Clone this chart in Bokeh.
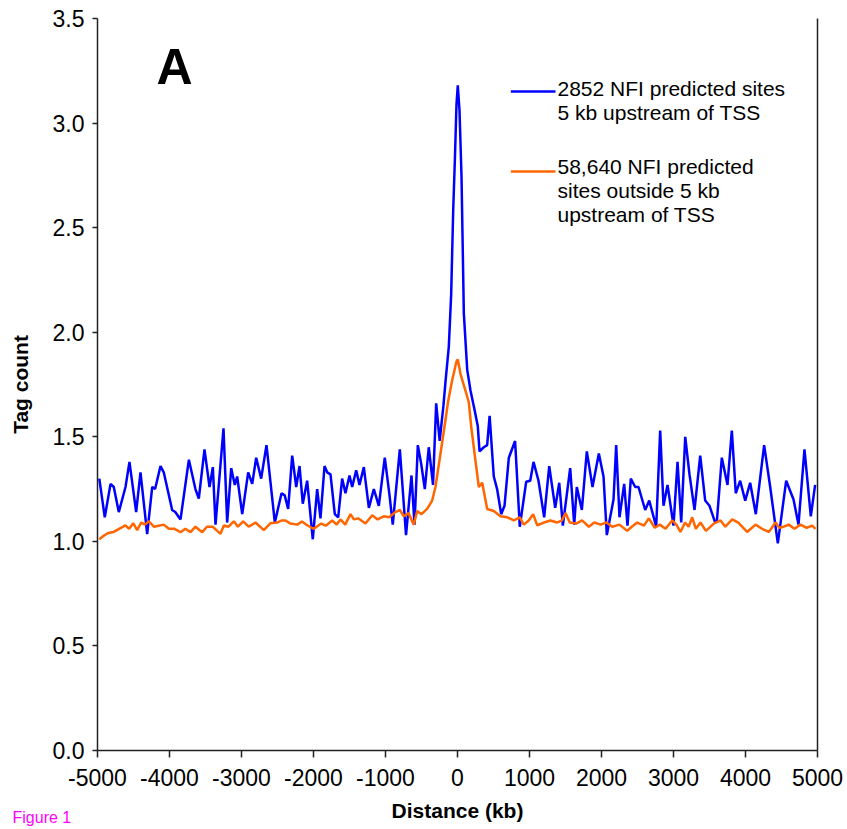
from bokeh.plotting import figure
from bokeh.models import Range1d, FixedTicker, PrintfTickFormatter, LinearAxis, Label, Arrow
from bokeh.embed import file_html
from bokeh.resources import INLINE

# ---- data ----
blue_x = [-4975, -4899, -4819, -4774, -4704, -4611, -4556, -4463, -4403, -4310,
          -4240, -4200, -4125, -4080, -3963, -3920, -3847, -3731, -3640, -3593,
          -3514, -3444, -3398, -3361, -3250, -3199, -3143, -3093, -3060, -2990,
          -2907, -2851, -2796, -2727, -2653, -2537, -2444, -2400, -2352, -2296,
          -2240, -2194, -2149, -2088, -2010, -1949, -1903, -1847, -1810, -1764,
          -1704, -1657, -1602, -1556, -1500, -1463, -1407, -1361, -1301, -1231,
          -1162, -1093, -1010, -944, -899, -801, -715, -639, -597, -551,
          -504, -454, -399, -340, -296, -248, -195, -165, -121, -88,
          -60, -37, -14, 4, 28, 56, 88, 135, 181, 236,
          282, 306, 365, 412, 446, 504, 550, 607, 653, 713,
          800, 865, 954, 1010, 1056, 1125, 1204, 1274, 1357, 1413,
          1463, 1565, 1621, 1657, 1727, 1796, 1875, 1963, 2028, 2074,
          2167, 2204, 2250, 2315, 2361, 2407, 2468, 2514, 2607, 2663,
          2760, 2815, 2861, 2917, 3000, 3056, 3107, 3163, 3222, 3292,
          3371, 3440, 3500, 3579, 3602, 3671, 3750, 3810, 3865, 3926,
          3996, 4065, 4143, 4259, 4343, 4449, 4565, 4667, 4736, 4819,
          4907, 4967]
blue_y = [1.30, 1.115, 1.275, 1.26, 1.14, 1.26, 1.38, 1.14, 1.33, 1.035,
          1.26, 1.25, 1.36, 1.33, 1.15, 1.14, 1.105, 1.39, 1.25, 1.205,
          1.44, 1.26, 1.355, 1.08, 1.54, 1.09, 1.35, 1.27, 1.31, 1.13,
          1.33, 1.275, 1.40, 1.30, 1.46, 1.09, 1.23, 1.22, 1.155, 1.41,
          1.26, 1.36, 1.18, 1.29, 1.01, 1.25, 1.11, 1.36, 1.33, 1.32,
          1.13, 1.115, 1.30, 1.23, 1.315, 1.26, 1.34, 1.27, 1.355, 1.16,
          1.25, 1.17, 1.40, 1.22, 1.08, 1.44, 1.03, 1.315, 1.08, 1.46,
          1.37, 1.25, 1.45, 1.27, 1.66, 1.48, 1.65, 1.77, 1.93, 2.18,
          2.58, 2.82, 3.09, 3.18, 3.06, 2.74, 2.09, 1.82, 1.72, 1.63,
          1.55, 1.43, 1.45, 1.46, 1.60, 1.31, 1.25, 1.13, 1.17, 1.40,
          1.48, 1.07, 1.285, 1.29, 1.38, 1.29, 1.115, 1.36, 1.16, 1.28,
          1.075, 1.35, 1.08, 1.26, 1.15, 1.43, 1.26, 1.42, 1.31, 1.03,
          1.20, 1.46, 1.115, 1.275, 1.075, 1.30, 1.26, 1.26, 1.15, 1.195,
          1.07, 1.53, 1.17, 1.27, 1.075, 1.38, 1.09, 1.50, 1.32, 1.15,
          1.41, 1.195, 1.17, 1.09, 1.095, 1.40, 1.27, 1.53, 1.23, 1.29,
          1.195, 1.28, 1.13, 1.46, 1.26, 0.99, 1.29, 1.20, 1.08, 1.44,
          1.12, 1.27]

orange_x = [-4975, -4900, -4850, -4775, -4700, -4611, -4560, -4504, -4449, -4393,
            -4340, -4287, -4218, -4150, -4079, -4010, -3930, -3847, -3780, -3708,
            -3639, -3546, -3480, -3400, -3292, -3245, -3180, -3107, -3050, -2977,
            -2900, -2806, -2690, -2597, -2504, -2440, -2389, -2320, -2226, -2160,
            -2088, -1996, -1893, -1830, -1740, -1680, -1625, -1560, -1486, -1440,
            -1380, -1278, -1185, -1110, -1024, -950, -861, -800, -746, -680,
            -608, -560, -500, -422, -352, -306, -236, -167, -130, -74,
            -14, 4, 42, 111, 157, 190, 226, 296, 343, 412,
            504, 597, 690, 782, 865, 920, 990, 1051, 1107, 1200,
            1292, 1380, 1450, 1500, 1560, 1650, 1730, 1824, 1900, 1990,
            2070, 2148, 2250, 2357, 2420, 2496, 2590, 2657, 2740, 2810,
            2889, 2982, 3040, 3097, 3160, 3210, 3260, 3310, 3375, 3450,
            3560, 3653, 3720, 3815, 3900, 4023, 4139, 4230, 4324, 4417,
            4470, 4530, 4601, 4680, 4764, 4850, 4926, 4972]
orange_y = [1.01, 1.03, 1.04, 1.045, 1.06, 1.076, 1.06, 1.087, 1.054, 1.09,
            1.08, 1.096, 1.07, 1.075, 1.08, 1.06, 1.06, 1.044, 1.06, 1.044,
            1.07, 1.044, 1.07, 1.07, 1.036, 1.076, 1.07, 1.096, 1.07, 1.096,
            1.07, 1.09, 1.054, 1.087, 1.09, 1.10, 1.10, 1.085, 1.08, 1.095,
            1.077, 1.06, 1.085, 1.075, 1.10, 1.08, 1.105, 1.08, 1.13, 1.105,
            1.11, 1.085, 1.125, 1.105, 1.12, 1.115, 1.14, 1.15, 1.12, 1.135,
            1.08, 1.145, 1.13, 1.155, 1.195, 1.26, 1.42, 1.58, 1.67, 1.77,
            1.86, 1.87, 1.80, 1.72, 1.665, 1.55, 1.45, 1.26, 1.28, 1.155,
            1.145, 1.12, 1.115, 1.10, 1.115, 1.08, 1.10, 1.13, 1.077, 1.09,
            1.10, 1.09, 1.10, 1.135, 1.09, 1.085, 1.10, 1.07, 1.09, 1.08,
            1.09, 1.07, 1.08, 1.05, 1.07, 1.09, 1.075, 1.11, 1.065, 1.08,
            1.06, 1.10, 1.08, 1.045, 1.09, 1.07, 1.115, 1.06, 1.09, 1.05,
            1.085, 1.10, 1.07, 1.105, 1.09, 1.045, 1.08, 1.06, 1.045, 1.09,
            1.065, 1.07, 1.08, 1.06, 1.08, 1.065, 1.075, 1.06]

x_ticks = [-5000, -4000, -3000, -2000, -1000, 0, 1000, 2000, 3000, 4000, 5000]
y_ticks = [0.0, 0.5, 1.0, 1.5, 2.0, 2.5, 3.0, 3.5]

blue_label = ["2852 NFI predicted sites", "5 kb upstream of TSS"]
orange_label = ["58,640 NFI predicted", "sites outside 5 kb", "upstream of TSS"]

FONT = "Liberation Sans"
AX = "#222222"

p = figure(width=847, height=829, output_backend="svg", toolbar_location=None,
           x_range=Range1d(-5000, 5000), y_range=Range1d(0, 3.5),
           min_border_left=97, min_border_right=30, min_border_top=18,
           min_border_bottom=79)
p.outline_line_color = None
p.xgrid.visible = False
p.ygrid.visible = False
p.background_fill_color = "white"
p.border_fill_color = "white"

p.line(blue_x, blue_y, line_color="#0000ff", line_width=2.5)
p.line(orange_x, orange_y, line_color="#ff6600", line_width=2.5)

xa = p.xaxis[0]
xa.ticker = FixedTicker(ticks=x_ticks)
xa.formatter = PrintfTickFormatter(format="%d")
ya = p.yaxis[0]
ya.ticker = FixedTicker(ticks=y_ticks)
ya.formatter = PrintfTickFormatter(format="%.1f")

for ax in (xa, ya):
    ax.axis_line_color = AX
    ax.axis_line_width = 1.5
    ax.major_tick_line_color = AX
    ax.major_tick_line_width = 1.5
    ax.major_tick_in = 0
    ax.major_tick_out = 7
    ax.minor_tick_line_color = None
    ax.major_label_text_font = FONT
    ax.major_label_text_font_size = "23px"
    ax.major_label_text_color = "black"
    ax.axis_label_text_font = FONT
    ax.axis_label_text_font_style = "bold"
    ax.axis_label_text_font_size = "21px"
    ax.axis_label_text_color = "black"

xa.axis_label = "Distance (kb)"
xa.major_label_standoff = 11
xa.axis_label_standoff = 10
ya.axis_label = "Tag count"
ya.major_label_standoff = 8
ya.axis_label_standoff = 18
ya.major_tick_out = 5

ra = LinearAxis(ticker=FixedTicker(ticks=[]), axis_line_color=AX, axis_line_width=1.5,
                major_tick_line_color=None, minor_tick_line_color=None,
                major_label_text_font_size="0px")
p.add_layout(ra, "right")

# Panel letter
p.add_layout(Label(x=-4181, y=3.268, text="A", text_font=FONT,
                   text_font_style="bold", text_font_size="50px",
                   text_color="black", text_align="left", text_baseline="middle"))

# Legend (line samples and multi-line texts)
p.add_layout(Arrow(end=None, x_start=741, y_start=3.151, x_end=1361, y_end=3.151,
                   line_color="#0000ff", line_width=2.5))
p.add_layout(Arrow(end=None, x_start=741, y_start=2.769, x_end=1361, y_end=2.769,
                   line_color="#ff6600", line_width=2.5))
for i, t in enumerate(blue_label):
    p.add_layout(Label(x=1389, y=3.165 - i * 0.1148, text=t, text_font=FONT,
                       text_font_size="21px", text_color="black",
                       text_align="left", text_baseline="middle"))
for i, t in enumerate(orange_label):
    p.add_layout(Label(x=1389, y=2.793 - i * 0.1148, text=t, text_font=FONT,
                       text_font_size="21px", text_color="black",
                       text_align="left", text_baseline="middle"))

# Figure caption at bottom-left: canvas pixel units, hosted in the (otherwise empty)
# top panel so it is neither clipped to the frame nor enlarging the bottom border
p.add_layout(Label(x=12, y=817, x_units="canvas", y_units="canvas",
                   text="Figure 1", text_font=FONT,
                   text_font_size="16px", text_color="#ff00ff",
                   text_align="left", text_baseline="alphabetic"), "above")

open("out.html", "w").write(file_html(p, INLINE))
